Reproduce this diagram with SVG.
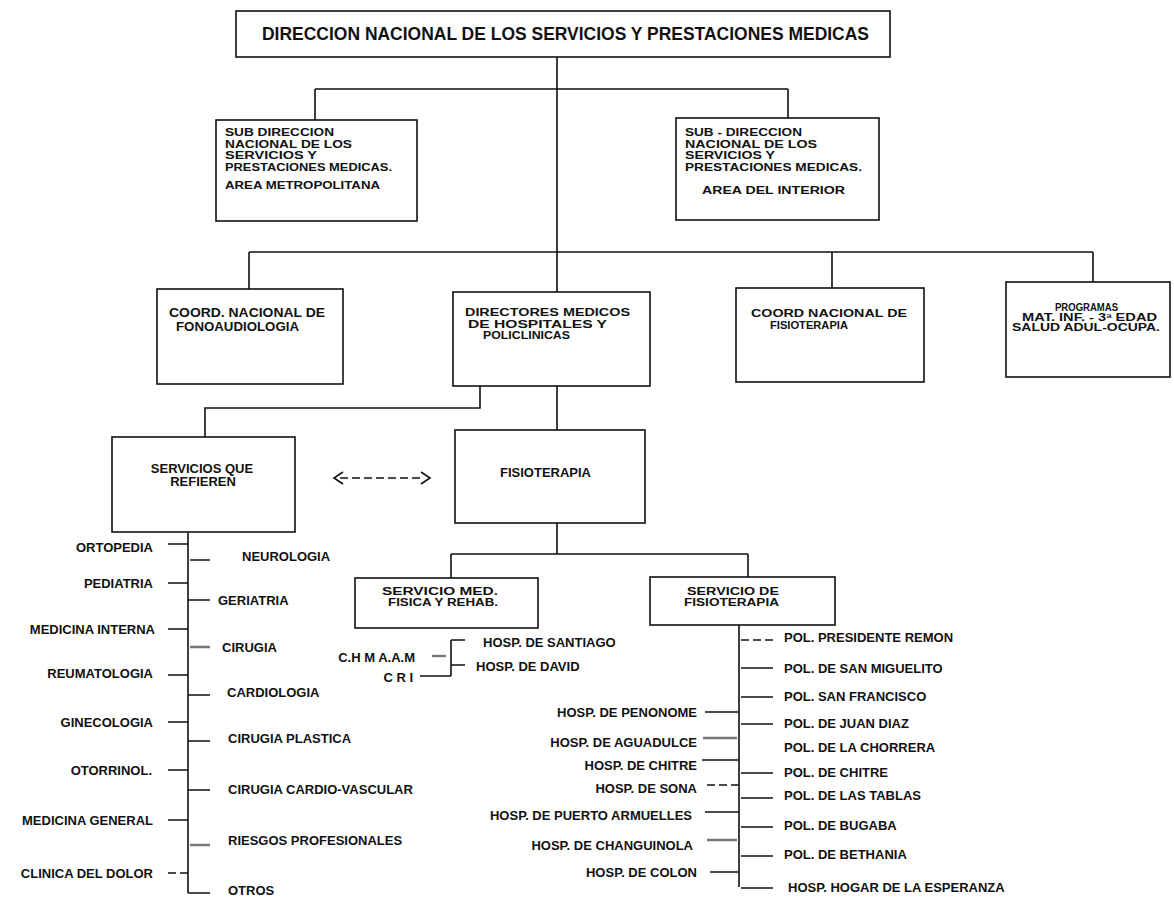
<svg xmlns="http://www.w3.org/2000/svg" width="1174" height="898" viewBox="0 0 1174 898">
<style>
.box{fill:#fff;stroke:#111;stroke-width:1.6}
.ln{stroke:#111;stroke-width:1.6;fill:none}
.gr{stroke:#777;stroke-width:2.4;fill:none}
.ds{stroke:#111;stroke-width:1.5;fill:none;stroke-dasharray:8 4}
text{font-family:"Liberation Sans",Arial,sans-serif;font-weight:bold;fill:#111;font-size:13px}
.s{font-size:10.5px}
.m{font-size:10px}
.e{text-anchor:end}
.c{text-anchor:middle}
</style>
<rect width="1174" height="898" fill="#fff"/>
<g id="connectors">
<path class="ln" d="M557 57V292M315 89H788M315 89V120M788 89V118M249 252H1093M249 252V289M832 252V288M1093 252V282M557 386V430M557 523V554M451 554H748M451 554V578M748 554V577"/>
<path class="ln" d="M480 386V408H205V437"/>
<path class="ds" d="M340 478H424"/>
<path class="ln" d="M343 472L334 478L343 484M421 472L430 478L421 484"/>
<path class="ln" d="M188 533V893M168 544H188M168 583H188M168 629H188M168 675H188M168 722H188M168 770H188M168 820H188M190 560H210M188 600H210M188 695H210M188 741H210M188 790H210M188 893H210"/>
<path class="ds" d="M168 873H188"/>
<path class="gr" d="M190 647H210M190 845H210"/>
<path class="ln" d="M451 640V676M451 640H465M451 665H465M420 676H451"/>
<path class="gr" d="M432 656H446"/>
<path class="ln" d="M739 625V887M741 668H773M741 697H773M741 724H773M741 773H773M741 798H773M741 827H773M741 856H773M741 888H773M705 712H739M702 760H739M705 812H739M710 872H739"/>
<path class="ds" d="M741 640H773M707 785H739"/>
<path class="gr" d="M703 738H737M707 840H737"/>
</g>
<g id="n-direccion"><rect class="box" x="236" y="11" width="654" height="46"/><text x="262" y="40" style="font-size:17.5px" textLength="607" lengthAdjust="spacingAndGlyphs">DIRECCION NACIONAL DE LOS SERVICIOS Y PRESTACIONES MEDICAS</text></g>
<g id="n-sub-metro"><rect class="box" x="216" y="120" width="201" height="101"/>
<text class="s" x="225" y="136" textLength="109" lengthAdjust="spacingAndGlyphs">SUB DIRECCION</text><text class="s" x="225" y="147.5" textLength="127" lengthAdjust="spacingAndGlyphs">NACIONAL DE LOS</text><text class="s" x="225" y="159" textLength="92" lengthAdjust="spacingAndGlyphs">SERVICIOS Y</text><text class="s" x="225" y="170.5" textLength="167" lengthAdjust="spacingAndGlyphs">PRESTACIONES MEDICAS.</text><text class="s" x="225" y="189" textLength="155" lengthAdjust="spacingAndGlyphs">AREA METROPOLITANA</text></g>
<g id="n-sub-interior"><rect class="box" x="676" y="118" width="203" height="102"/>
<text class="s" x="685" y="136" textLength="117" lengthAdjust="spacingAndGlyphs">SUB - DIRECCION</text><text class="s" x="685" y="147.5" textLength="132" lengthAdjust="spacingAndGlyphs">NACIONAL DE LOS</text><text class="s" x="685" y="159" textLength="90" lengthAdjust="spacingAndGlyphs">SERVICIOS Y</text><text class="s" x="685" y="170.5" textLength="177" lengthAdjust="spacingAndGlyphs">PRESTACIONES MEDICAS.</text><text class="s" x="702" y="194" textLength="143" lengthAdjust="spacingAndGlyphs">AREA DEL INTERIOR</text></g>
<g id="n-fono"><rect class="box" x="157" y="289" width="186" height="95"/><text x="169" y="317" style="font-size:12px" textLength="156" lengthAdjust="spacingAndGlyphs">COORD. NACIONAL DE</text><text x="176" y="331" style="font-size:12px" textLength="123" lengthAdjust="spacingAndGlyphs">FONOAUDIOLOGIA</text></g>
<g id="n-directores"><rect class="box" x="453" y="292" width="197" height="94"/><text class="s" x="465" y="316" textLength="165" lengthAdjust="spacingAndGlyphs">DIRECTORES MEDICOS</text><text class="s" x="468" y="327.5" textLength="139" lengthAdjust="spacingAndGlyphs">DE HOSPITALES Y</text><text class="s" x="483" y="339" textLength="87" lengthAdjust="spacingAndGlyphs">POLICLINICAS</text></g>
<g id="n-coord-fisio"><rect class="box" x="736" y="288" width="188" height="94"/><text class="s" x="751" y="316.5" textLength="156" lengthAdjust="spacingAndGlyphs">COORD NACIONAL DE</text><text class="s" x="770" y="328.5" textLength="78" lengthAdjust="spacingAndGlyphs">FISIOTERAPIA</text></g>
<g id="n-programas"><rect class="box" x="1006" y="282" width="164" height="95"/><text class="m" x="1055" y="311" textLength="63" lengthAdjust="spacingAndGlyphs">PROGRAMAS</text><text class="m" x="1022" y="321" textLength="135" lengthAdjust="spacingAndGlyphs">MAT. INF. - 3ª EDAD</text><text class="m" x="1012" y="331" textLength="148" lengthAdjust="spacingAndGlyphs">SALUD ADUL-OCUPA.</text></g>
<g id="n-servicios"><rect class="box" x="112" y="437" width="183" height="95"/><text class="c" x="202" y="473">SERVICIOS QUE</text><text class="c" x="203" y="486">REFIEREN</text></g>
<g id="n-fisioterapia"><rect class="box" x="455" y="430" width="190" height="93"/><text x="500" y="477">FISIOTERAPIA</text></g>
<g id="n-serv-med"><rect class="box" x="355" y="578" width="183" height="50"/><text class="s" x="382" y="594.5" textLength="116" lengthAdjust="spacingAndGlyphs">SERVICIO MED.</text><text class="s" x="388" y="606" textLength="110" lengthAdjust="spacingAndGlyphs">FISICA Y REHAB.</text></g>
<g id="n-serv-fisio"><rect class="box" x="650" y="577" width="185" height="48"/><text class="s" x="687" y="594.5" textLength="92" lengthAdjust="spacingAndGlyphs">SERVICIO DE</text><text class="s" x="684" y="606" textLength="95" lengthAdjust="spacingAndGlyphs">FISIOTERAPIA</text></g>
<g id="n-left-list">
<text class="e" x="153" y="551.5">ORTOPEDIA</text><text class="e" x="153" y="587.5">PEDIATRIA</text><text class="e" x="155" y="633.5">MEDICINA INTERNA</text><text class="e" x="153" y="677.5">REUMATOLOGIA</text><text class="e" x="153" y="726.5">GINECOLOGIA</text><text class="e" x="152" y="774.5">OTORRINOL.</text><text class="e" x="153" y="824.5">MEDICINA GENERAL</text><text class="e" x="153" y="877.5">CLINICA DEL DOLOR</text>
<text x="242" y="560.5">NEUROLOGIA</text><text x="218" y="604.5">GERIATRIA</text><text x="222" y="651.5">CIRUGIA</text><text x="227" y="696.5">CARDIOLOGIA</text><text x="228" y="742.5">CIRUGIA PLASTICA</text><text x="228" y="793.5">CIRUGIA CARDIO-VASCULAR</text><text x="228" y="844.5">RIESGOS PROFESIONALES</text><text x="228" y="894.5">OTROS</text>
</g>
<g id="n-med-list">
<text x="483" y="646.5">HOSP. DE SANTIAGO</text><text x="476" y="670.5">HOSP. DE DAVID</text><text class="e" x="415" y="661.5">C.H M A.A.M</text><text class="e" x="413" y="681.5">C R I</text>
</g>
<g id="n-fisio-list">
<text class="e" x="697" y="716.5">HOSP. DE PENONOME</text><text class="e" x="697" y="746.5">HOSP. DE AGUADULCE</text><text class="e" x="697" y="769.5">HOSP. DE CHITRE</text><text class="e" x="697" y="792.5">HOSP. DE SONA</text><text class="e" x="692" y="819.5">HOSP. DE PUERTO ARMUELLES</text><text class="e" x="693" y="849.5">HOSP. DE CHANGUINOLA</text><text class="e" x="697" y="876.5">HOSP. DE COLON</text>
<text x="784" y="641.5">POL. PRESIDENTE REMON</text><text x="784" y="672.5">POL. DE SAN MIGUELITO</text><text x="784" y="700.5">POL. SAN FRANCISCO</text><text x="784" y="727.5">POL. DE JUAN DIAZ</text><text x="784" y="751.5">POL. DE LA CHORRERA</text><text x="784" y="776.5">POL. DE CHITRE</text><text x="784" y="799.5">POL. DE LAS TABLAS</text><text x="784" y="829.5">POL. DE BUGABA</text><text x="784" y="858.5">POL. DE BETHANIA</text><text x="788" y="891.5">HOSP. HOGAR DE LA ESPERANZA</text>
</g>
</svg>
